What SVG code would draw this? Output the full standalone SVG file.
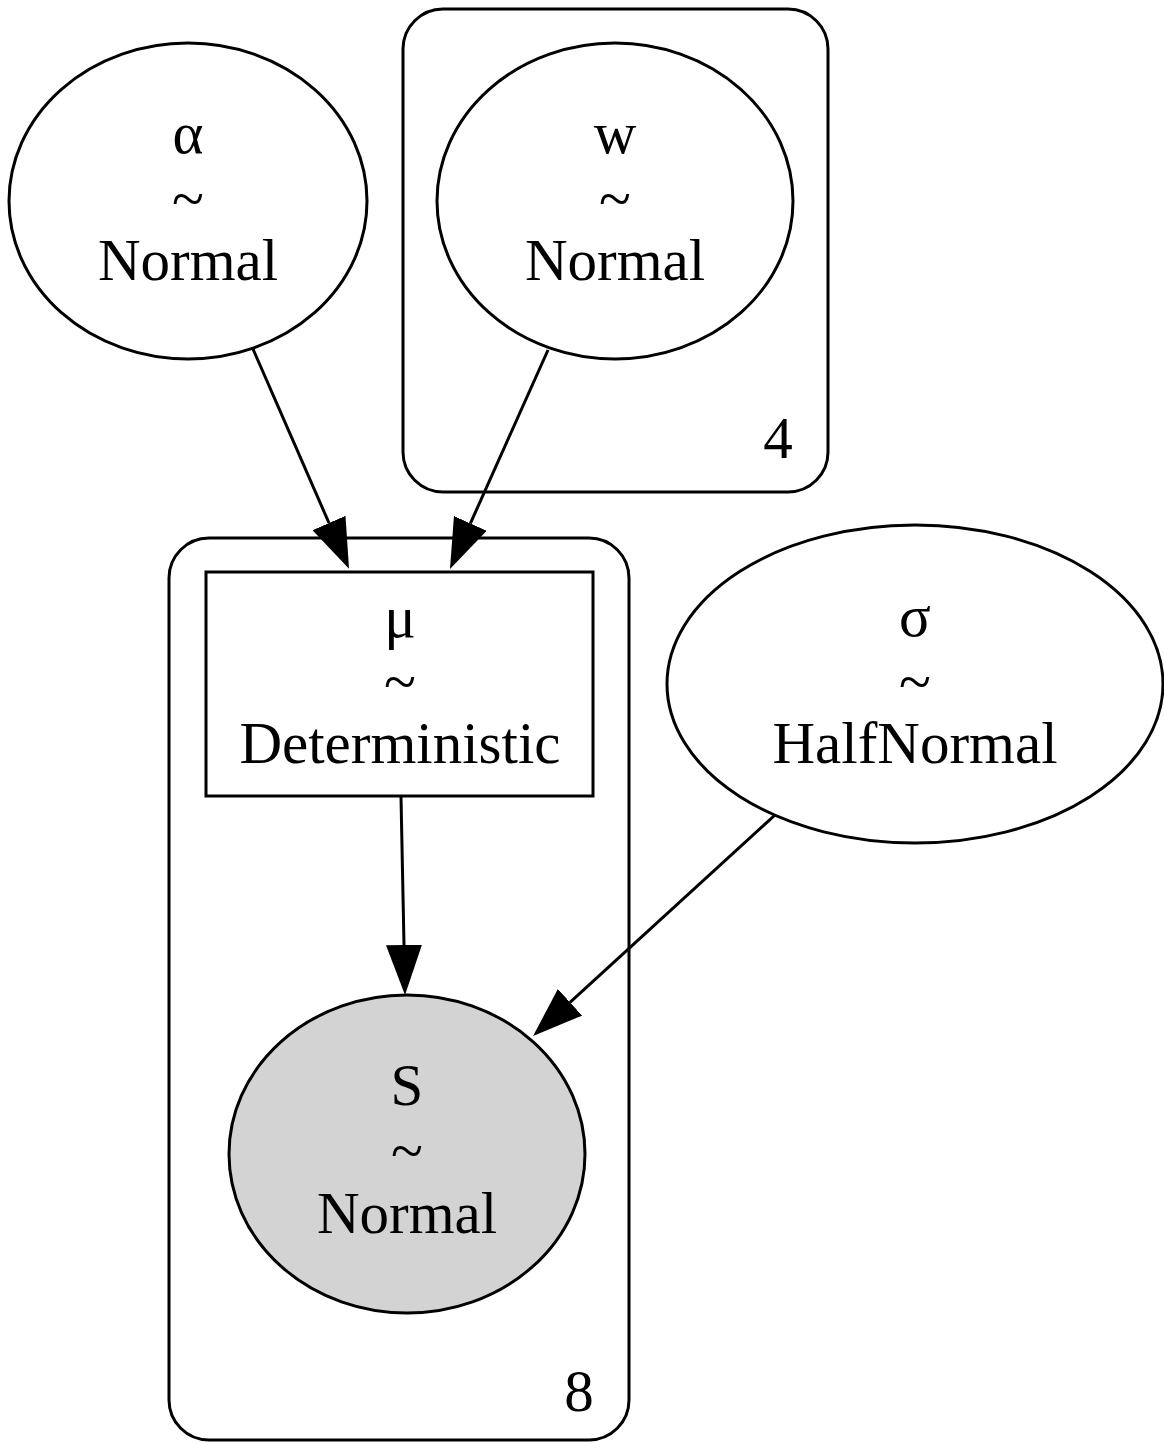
<svg xmlns="http://www.w3.org/2000/svg" width="1164" height="1443" viewBox="0 0 1164 1443">
<style>
.plate{fill:none;stroke:#000;stroke-width:3}
.node{fill:#fff;stroke:#000;stroke-width:3}
.obs{fill:#d3d3d3;stroke:#000;stroke-width:3}
.edge{fill:none;stroke:#000;stroke-width:3}
text{font-family:"Liberation Serif","Times New Roman",serif;font-size:59px;fill:#000;text-anchor:middle}
</style>
<defs>
<marker id="arr" markerUnits="userSpaceOnUse" viewBox="0 0 50 36" refX="0" refY="18" markerWidth="50" markerHeight="36" orient="auto">
<path d="M0,0 L50,18 L0,36 z" fill="#000"/>
</marker>
</defs>
<rect width="1164" height="1443" fill="#fff"/>
<g id="plate_4">
<rect class="plate" x="403" y="9" width="425" height="483" rx="40" ry="40"/>
<text x="778" y="458">4</text>
</g>
<g id="plate_8">
<rect class="plate" x="169" y="538" width="460" height="902" rx="40" ry="40"/>
<text x="579" y="1411">8</text>
</g>
<g id="alpha">
<ellipse class="node" cx="188" cy="201" rx="179" ry="158"/>
<text x="188" y="153">α</text>
<text x="188" y="219">~</text>
<text x="188" y="280">Normal</text>
</g>
<g id="w">
<ellipse class="node" cx="615" cy="201" rx="178" ry="158"/>
<text x="615" y="153">w</text>
<text x="615" y="219">~</text>
<text x="615" y="280">Normal</text>
</g>
<g id="mu">
<rect class="node" x="206" y="572" width="387" height="224"/>
<text x="400" y="637">μ</text>
<text x="400" y="702">~</text>
<text x="400" y="763">Deterministic</text>
</g>
<g id="sigma">
<ellipse class="node" cx="915" cy="684" rx="248" ry="159"/>
<text x="915" y="636">σ</text>
<text x="915" y="702">~</text>
<text x="915" y="763">HalfNormal</text>
</g>
<g id="S">
<ellipse class="obs" cx="407" cy="1154" rx="178" ry="159"/>
<text x="407" y="1105">S</text>
<text x="407" y="1171">~</text>
<text x="407" y="1233">Normal</text>
</g>
<g id="edges">
<line class="edge" x1="253" y1="349" x2="329" y2="523" marker-end="url(#arr)"/>
<line class="edge" x1="548" y1="350" x2="470.4" y2="523.4" marker-end="url(#arr)"/>
<line class="edge" x1="401" y1="797" x2="404" y2="945" marker-end="url(#arr)"/>
<line class="edge" x1="775" y1="815" x2="570" y2="1002.3" marker-end="url(#arr)"/>
</g>
</svg>
